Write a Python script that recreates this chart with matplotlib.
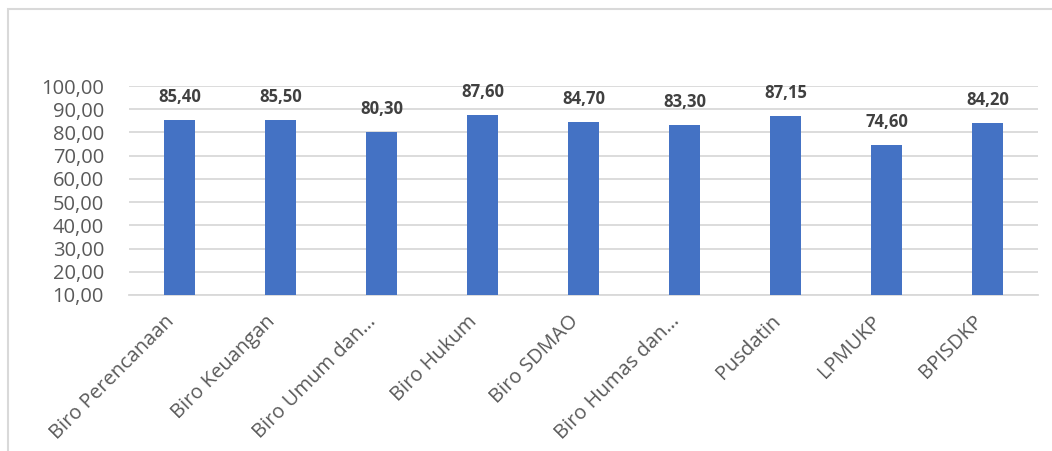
import matplotlib
matplotlib.use("Agg")
from matplotlib import pyplot as plt
from matplotlib.patches import Rectangle
from matplotlib.transforms import ScaledTranslation
import numpy as np

categories = ["Biro Perencanaan", "Biro Keuangan", "Biro Umum dan…", "Biro Hukum",
              "Biro SDMAO", "Biro Humas dan…", "Pusdatin", "LPMUKP", "BPISDKP"]
values = [85.40, 85.50, 80.30, 87.60, 84.70, 83.30, 87.15, 74.60, 84.20]
y_ticks = [10, 20, 30, 40, 50, 60, 70, 80, 90, 100]


def fmt(v):
    return f"{v:.2f}".replace(".", ",")


def main():
    plt.rcParams['font.family'] = ['Open Sans', 'DejaVu Sans']
    fig = plt.figure(figsize=(10.52, 4.51), dpi=100)
    ax = fig.add_axes([0.1226, 0.3459, 0.8641, 0.4634])

    # chart frame (only top and left edges visible in the crop)
    fig.add_artist(Rectangle((0.0076, -0.1), 1.1, 1.079, transform=fig.transFigure,
                             fill=False, edgecolor="#d9d9d9", linewidth=1.5))

    x = np.arange(len(categories))
    ax.bar(x, values, width=0.315, color="#4472c4", zorder=3)
    for xi, v in zip(x, values):
        ax.annotate(fmt(v), (xi, v), xytext=(0, 10), textcoords="offset points",
                    ha="center", va="bottom", fontsize=12, fontweight="bold", color="#404040")

    ax.set_xlim(-0.5, len(categories) - 0.5)
    ax.set_ylim(10, 100)
    ax.set_yticks(y_ticks)
    ax.set_yticklabels([fmt(t) for t in y_ticks])
    ax.yaxis.grid(True, color="#d9d9d9", linewidth=1.3, zorder=0)
    ax.set_xticks(x)
    ax.set_xticklabels(categories, rotation=45, ha="right", va="center",
                       rotation_mode="anchor")
    ax.tick_params(axis="both", length=0, colors="#595959")
    ax.tick_params(axis="x", pad=17, labelsize=14.5)
    ax.tick_params(axis="y", pad=18, labelsize=14.5)
    # nudge the slanted labels left so their ends sit under the bars
    shift = ScaledTranslation(-8 / 100, 0, fig.dpi_scale_trans)
    for lbl in ax.get_xticklabels():
        lbl.set_transform(lbl.get_transform() + shift)
    for side in ["top", "right", "left"]:
        ax.spines[side].set_visible(False)
    ax.spines["bottom"].set_color("#d9d9d9")
    ax.spines["bottom"].set_linewidth(1.3)

    fig.savefig("out.png", dpi=100)


if __name__ == "__main__":
    main()
